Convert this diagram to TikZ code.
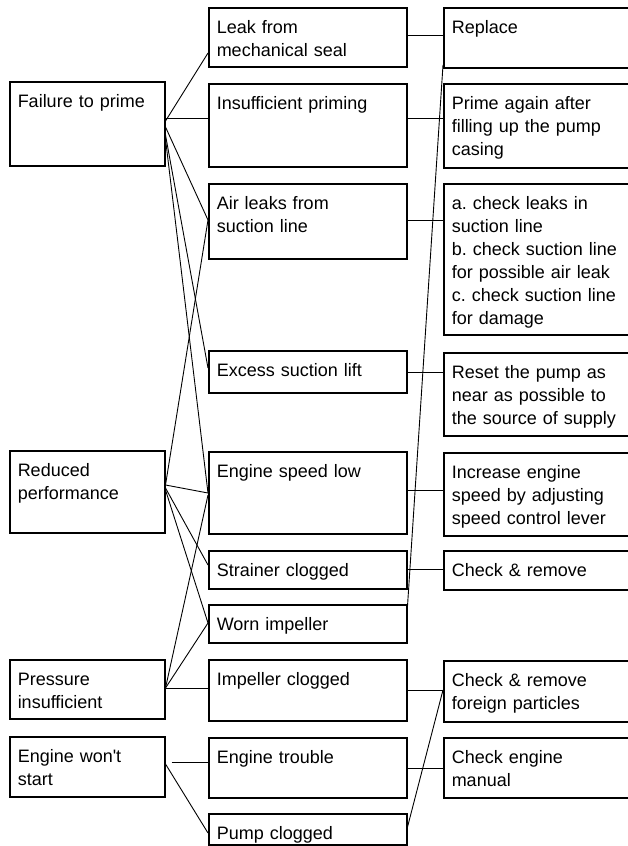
\documentclass[tikz,border=0pt]{standalone}
\usepackage{fontspec}
\setmainfont{Liberation Sans}
\usetikzlibrary{calc}
\frenchspacing

\begin{document}
\begin{tikzpicture}[x=1pt,y=-1pt,font=\fontsize{18}{23}\selectfont,
    box/.style={draw, line width=1.5pt, anchor=north west, align=left, inner xsep=8pt, inner ysep=0pt, text height=26pt},
    sym/.style={box, text width=139pt, text depth=#1},
    cause/.style={box, text width=182pt, text depth=#1},
    fix/.style={box, text width=170pt, text depth=#1},
    link/.style={line width=0.9pt}]
    \useasboundingbox (0,0) rectangle (627,846);

    % Symptoms
    \node[sym=58pt] (fail) at (9,81) {Failure to prime};
    \node[sym=56pt] (redu) at (9,450) {Reduced\\performance};
    \node[sym=33pt] (pres) at (9,659) {Pressure\\insufficient};
    \node[sym=34pt] (wont) at (9,736) {Engine won\textquotesingle t\\start};

    % Causes
    \node[cause=33pt] (leak) at (208,7) {Leak from\\mechanical seal};
    \node[cause=57pt] (insu) at (208,83) {Insufficient priming};
    \node[cause=49pt] (airl) at (208,183) {Air leaks from\\suction line};
    \node[cause=16pt] (exce) at (208,350) {Excess suction lift};
    \node[cause=56pt] (spee) at (208,451) {Engine speed low};
    \node[cause=12pt] (stra) at (208,550) {Strainer clogged};
    \node[cause=12pt] (worn) at (208,604) {Worn impeller};
    \node[cause=35pt] (impc) at (208,659) {Impeller clogged};
    \node[cause=34pt] (etro) at (208,737) {Engine trouble};
    \node[cause=5pt] (pump) at (208,813) {Pump clogged};

    % Remedies
    \node[fix=34pt] (repl) at (443,7) {Replace};
    \node[fix=58pt] (prim) at (443,83) {Prime again after\\filling up the pump\\casing};
    \node[fix=125pt] (chkl) at (443,183) {a. check leaks in\\suction line\\b. check suction line\\for possible air leak\\c. check suction line\\for damage};
    \node[fix=57pt] (rese) at (443,352) {Reset the pump as\\near as possible to\\the source of supply};
    \node[fix=57pt] (incr) at (443,452) {Increase engine\\speed by adjusting\\speed control lever};
    \node[fix=13pt] (chkr) at (443,550) {Check \& remove};
    \node[fix=35pt] (chkf) at (443,660) {Check \& remove\\foreign particles};
    \node[fix=34pt] (chkm) at (443,737) {Check engine\\manual};

    % Symptom to cause
    \draw[link] ($(fail.north east)+(0,40)$) -- ($(leak.north west)+(0,46)$);
    \draw[link] ($(fail.north east)+(0,37)$) -- ($(insu.north west)+(0,35)$);
    \draw[link] ($(fail.north east)+(0,46)$) -- ($(airl.north west)+(0,37)$);
    \draw[link] ($(fail.north east)+(0,54)$) -- ($(exce.north west)+(0,18)$);
    \draw[link] ($(fail.north east)+(0,58)$) -- ($(spee.north west)+(0,42)$);
    \draw[link] ($(redu.north east)+(0,35)$) -- ($(airl.north west)+(0,37)$);
    \draw[link] ($(redu.north east)+(0,35)$) -- ($(spee.north west)+(0,42)$);
    \draw[link] ($(redu.north east)+(0,38)$) -- ($(stra.north west)+(0,15)$);
    \draw[link] ($(redu.north east)+(0,40)$) -- ($(worn.north west)+(0,19)$);
    \draw[link] ($(pres.north east)+(0,29)$) -- ($(spee.north west)+(0,44)$);
    \draw[link] ($(pres.north east)+(0,29)$) -- ($(worn.north west)+(0,19)$);
    \draw[link] ($(pres.north east)+(0,29)$) -- ($(impc.north west)+(0,29)$);
    \draw[link] ($(wont.north east)+(6,26)$) -- ($(etro.north west)+(0,25)$);
    \draw[link] ($(wont.north east)+(0,28)$) -- ($(pump.north west)+(0,20)$);

    % Cause to remedy
    \draw[link] ($(leak.north east)+(0,28)$) -- ($(repl.north west)+(0,28)$);
    \draw[link] ($(insu.north east)+(0,35)$) -- ($(prim.north west)+(0,35)$);
    \draw[link] ($(airl.north east)+(0,37)$) -- ($(chkl.north west)+(0,37)$);
    \draw[link] ($(exce.north east)+(0,22)$) -- ($(rese.north west)+(0,20)$);
    \draw[link] ($(spee.north east)+(0,39)$) -- ($(incr.north west)+(0,38)$);
    \draw[link] ($(stra.north east)+(0,19)$) -- ($(chkr.north west)+(0,19)$);
    \draw[link] ($(impc.north east)+(0,31)$) -- ($(chkf.north west)+(0,30)$);
    \draw[link] ($(etro.north east)+(0,31)$) -- ($(chkm.north west)+(0,31)$);
    \draw[link] ($(worn.north east)+(0,2)$) -- ($(repl.north west)+(0,58)$);
    \draw[link] ($(pump.north east)+(0,14)$) -- ($(chkf.north west)+(0,30)$);
\end{tikzpicture}
\end{document}
